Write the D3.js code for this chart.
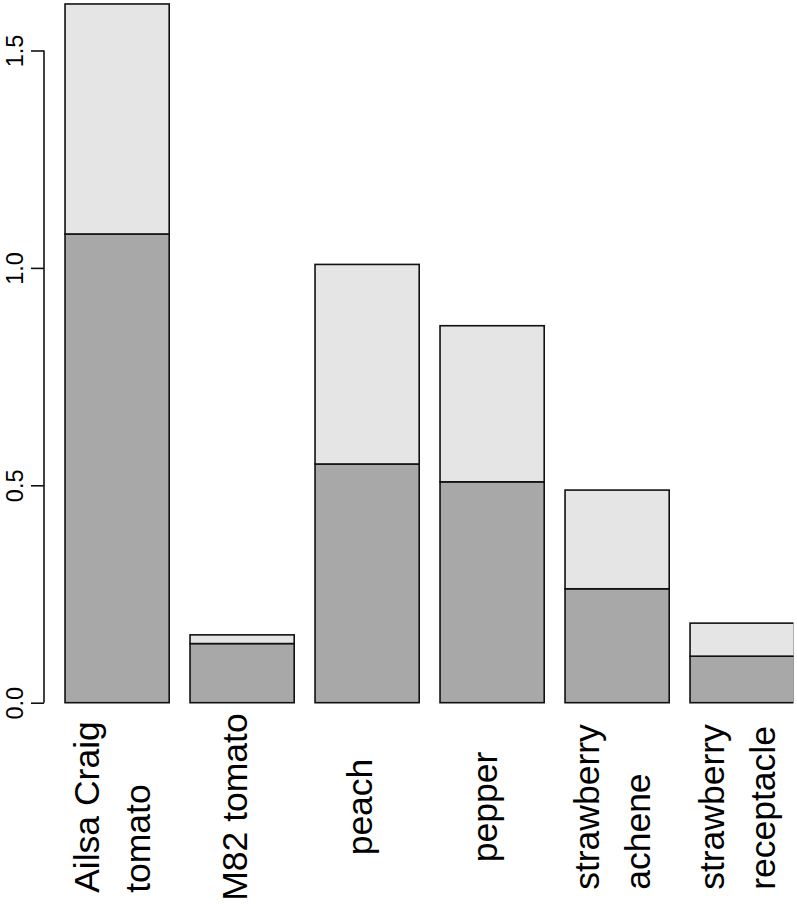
<!DOCTYPE html>
<html>
<head>
<meta charset="utf-8">
<script src="https://cdn.jsdelivr.net/npm/d3@7"></script>
<style>
  html, body { margin: 0; padding: 0; background: #fff; }
  svg { display: block; }
</style>
</head>
<body>
<script>
// ---- data ----
const categories = ["Ailsa Craig\ntomato", "M82 tomato", "peach", "pepper", "strawberry\nachene", "strawberry\nreceptacle"];
const lowerValues = [1.078, 0.136, 0.549, 0.508, 0.262, 0.107];
const upperValues = [0.529, 0.020, 0.459, 0.359, 0.227, 0.076];
const yTicks = [0.0, 0.5, 1.0, 1.5];
const yTickLabels = ["0.0", "0.5", "1.0", "1.5"];

const W = 797, H = 905;
const svg = d3.select("body").append("svg").attr("width", W).attr("height", H);

const x = d3.scaleBand().domain(categories).range([65.03, 794.2]).paddingInner(0.2 / 1.2).paddingOuter(0);
const y = d3.scaleLinear().domain([0, 1.5]).range([702.7, 50.5]);

svg.append("defs").append("clipPath").attr("id", "plotclip")
  .append("rect").attr("x", 0).attr("y", 0).attr("width", 793.5).attr("height", H);

const rows = categories.map((c, i) => ({ c, lo: lowerValues[i], up: upperValues[i] }));
const stack = d3.stack().keys(["lo", "up"])(rows);
const fills = { lo: "#a8a8a8", up: "#e5e5e5" };

const plot = svg.append("g").attr("clip-path", "url(#plotclip)");
stack.forEach(layer => {
  plot.append("g").selectAll("rect").data(layer).join("rect")
    .attr("x", d => x(d.data.c))
    .attr("width", x.bandwidth())
    .attr("y", d => y(d[1]))
    .attr("height", d => y(d[0]) - y(d[1]))
    .attr("fill", fills[layer.key])
    .attr("stroke", "#111")
    .attr("stroke-width", 1.6);
});

// y axis
const axisX = 44;
const yAxis = d3.axisLeft(y).tickValues(yTicks).tickFormat((d, i) => yTickLabels[i]).tickSize(13).tickSizeOuter(0);
const ag = svg.append("g").attr("transform", `translate(${axisX},0)`).call(yAxis);
ag.select(".domain").attr("stroke", "#111").attr("stroke-width", 1.6)
  .attr("d", `M0,${y(1.5)}V${y(0)}`);
ag.selectAll(".tick line").attr("stroke", "#111").attr("stroke-width", 1.6);
ag.selectAll(".tick text")
  .attr("font-family", "'Liberation Sans', Arial, sans-serif")
  .attr("font-size", 23.5)
  .attr("fill", "#000")
  .attr("text-anchor", "middle")
  .attr("x", 0).attr("dx", null).attr("dy", null)
  .attr("transform", "translate(-21,0) rotate(-90)");

// category labels (rotated, lines start-aligned, block centered)
const labelCenterY = 807;
const lineGap = 51;
categories.forEach(c => {
  const lines = c.split("\n");
  const cx = x(c) + x.bandwidth() / 2;
  const n = lines.length;
  const tmp = svg.append("g");
  const texts = lines.map(l => tmp.append("text")
    .attr("font-family", "'Liberation Sans', Arial, sans-serif")
    .attr("font-size", 35.5)
    .attr("fill", "#000")
    .text(l));
  const maxLen = d3.max(texts, t => t.node().getComputedTextLength());
  const yStart = labelCenterY + maxLen / 2;
  texts.forEach((t, i) => {
    const off = n === 1 ? 5 : (i - (n - 1) / 2) * lineGap + 7;
    t.attr("text-anchor", "start")
     .attr("transform", `translate(${cx + off},${yStart}) rotate(-90)`);
  });
});
</script>
</body>
</html>
